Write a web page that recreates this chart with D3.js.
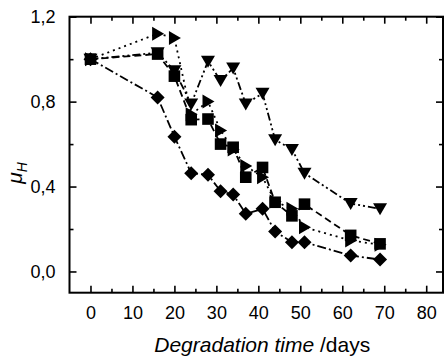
<!DOCTYPE html>
<html>
<head>
<meta charset="utf-8">
<script src="https://cdn.jsdelivr.net/npm/d3@7"></script>
<style>
html,body{margin:0;padding:0;background:#fff;}
svg{display:block;font-family:"Liberation Sans",Arial,sans-serif;}
</style>
</head>
<body>
<svg id="chart" width="446" height="358"></svg>
<script>
// ---- data ----
const diamondX = [0,16,20,24,28,31,34,37,41,44,48,51,62,69];
const diamondY = [1.0,0.82,0.635,0.463,0.456,0.378,0.362,0.272,0.295,0.188,0.138,0.138,0.075,0.056];
const squareX = [0,16,20,24,28,31,34,37,41,44,48,51,62,69];
const squareY = [1.0,1.024,0.92,0.715,0.718,0.60,0.585,0.444,0.49,0.326,0.262,0.317,0.17,0.13];
const rightTriX = [0,16,20,24,28,31,34,37,41,44,48,51,62,69];
const rightTriY = [1.0,1.12,1.10,0.74,0.80,0.664,0.575,0.497,0.444,0.33,0.295,0.208,0.146,0.126];
const downTriX = [0,16,20,24,28,31,34,37,41,44,48,51,62,69];
const downTriY = [1.0,1.03,0.946,0.789,0.99,0.899,0.958,0.789,0.839,0.62,0.575,0.463,0.32,0.295];
const xMajorTicks = [0,10,20,30,40,50,60,70,80];
const xMinorTicks = [5,15,25,35,45,55,65,75];
const yMajorTicks = [0.0,0.4,0.8,1.2];
const yMinorTicks = [0.2,0.6,1.0];
const xTitle = "Degradation time";
const xUnit = " /days";

(function () {
const series = [
  {x: rightTriX, y: rightTriY, shape: "right", dash: "2,4"},
  {x: downTriX, y: downTriY, shape: "down", dash: "8,3,2,3,2,3"},
  {x: squareX, y: squareY, shape: "square", dash: "7,4"},
  {x: diamondX, y: diamondY, shape: "diamond", dash: "9,3,2,3"}
];

const L = 69.5, R = 443, T = 16.7, B = 292.7;
const x = d3.scaleLinear().domain([-5, 84]).range([L, R]);
const y = d3.scaleLinear().domain([-0.1, 1.2]).range([B, T]);

const svg = d3.select("#chart");
const fmt = v => d3.format(".1f")(v).replace(".", ",");

// series lines
const line = d3.line().x(d => x(d[0])).y(d => y(d[1]));
const g = svg.append("g");
series.forEach(s => {
  const pts = s.x.map((v, i) => [v, s.y[i]]);
  g.append("path").attr("d", line(pts)).attr("fill", "none")
    .attr("stroke", "#000").attr("stroke-width", 1.8)
    .attr("stroke-dasharray", s.dash);
});
function shapePath(shape) {
  if (shape === "diamond") return "M0,-7L7,0L0,7L-7,0Z";
  if (shape === "square") return "M-5.8,-5.8H5.8V5.8H-5.8Z";
  if (shape === "down") return "M-7,-5.5L7,-5.5L0,6.5Z";
  if (shape === "right") return "M-5.5,-7L6.5,0L-5.5,7Z";
}
series.forEach(s => {
  s.x.forEach((v, i) => {
    g.append("path").attr("d", shapePath(s.shape))
      .attr("transform", `translate(${x(v)},${y(s.y[i])})`)
      .attr("fill", "#000");
  });
});

// axes (ticks inside, mirrored)
const axG = svg.append("g");
const axBottom = d3.axisBottom(x).tickValues(xMajorTicks).tickSize(-7).tickPadding(14).tickFormat(d3.format("d"));
const axBottomMinor = d3.axisBottom(x).tickValues(xMinorTicks).tickSize(-4).tickFormat("");
const axTop = d3.axisTop(x).tickValues(xMajorTicks).tickSize(-7).tickFormat("");
const axTopMinor = d3.axisTop(x).tickValues(xMinorTicks).tickSize(-4).tickFormat("");
const axLeft = d3.axisLeft(y).tickValues(yMajorTicks).tickSize(-7).tickPadding(14).tickFormat(fmt);
const axLeftMinor = d3.axisLeft(y).tickValues(yMinorTicks).tickSize(-4).tickFormat("");
const axRight = d3.axisRight(y).tickValues(yMajorTicks).tickSize(-7).tickFormat("");
const axRightMinor = d3.axisRight(y).tickValues(yMinorTicks).tickSize(-4).tickFormat("");

function style(sel) {
  sel.select(".domain").remove();
  sel.selectAll(".tick line").attr("stroke", "#000").attr("stroke-width", 1.6);
  sel.selectAll(".tick text").attr("fill", "#000").attr("font-size", 18)
     .attr("font-family", "Liberation Sans, Arial, sans-serif");
}
axG.append("g").attr("transform", `translate(0,${B})`).call(axBottom).call(style);
axG.append("g").attr("transform", `translate(0,${B})`).call(axBottomMinor).call(style);
axG.append("g").attr("transform", `translate(0,${T})`).call(axTop).call(style);
axG.append("g").attr("transform", `translate(0,${T})`).call(axTopMinor).call(style);
axG.append("g").attr("transform", `translate(${L},0)`).call(axLeft).call(style);
axG.append("g").attr("transform", `translate(${L},0)`).call(axLeftMinor).call(style);
axG.append("g").attr("transform", `translate(${R},0)`).call(axRight).call(style);
axG.append("g").attr("transform", `translate(${R},0)`).call(axRightMinor).call(style);

// frame
svg.append("rect").attr("x", L).attr("y", T).attr("width", R - L).attr("height", B - T)
  .attr("fill", "none").attr("stroke", "#000").attr("stroke-width", 2);

// x title
const xt = svg.append("text").attr("x", (L + R) / 2 + 6).attr("y", 352)
  .attr("text-anchor", "middle").attr("font-size", 21).attr("fill", "#000");
xt.append("tspan").attr("font-style", "italic").text(xTitle);
xt.append("tspan").text(xUnit);

// y title
const yt = svg.append("text").attr("transform", "translate(22,173) rotate(-90)")
  .attr("text-anchor", "middle").attr("font-size", 21).attr("fill", "#000")
  .attr("font-style", "italic");
yt.append("tspan").text("\u03BC");
yt.append("tspan").attr("font-size", 14).attr("dy", 5).text("H");
})();
</script>
</body>
</html>
